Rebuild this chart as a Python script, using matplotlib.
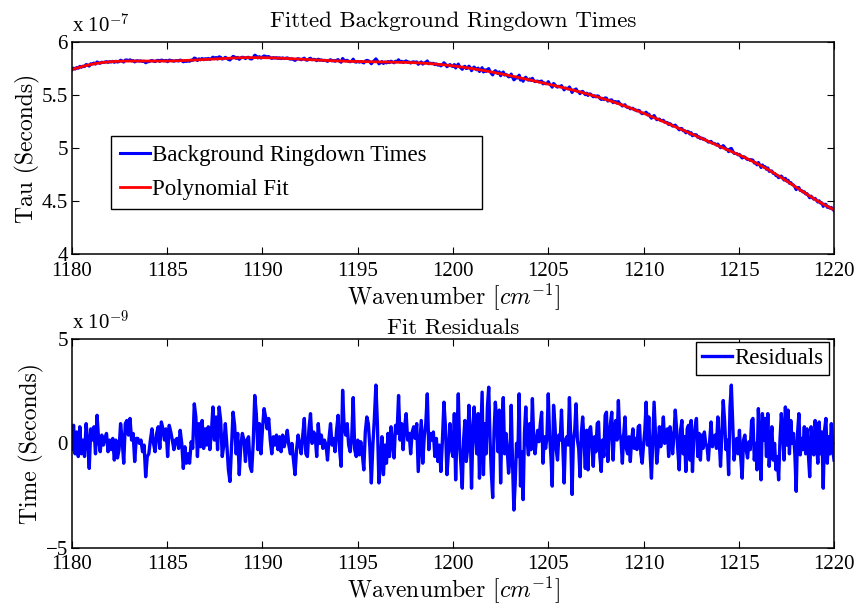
import numpy as np
import matplotlib
matplotlib.use("Agg")
import matplotlib.pyplot as plt
from matplotlib.ticker import FuncFormatter
from numpy.polynomial import Chebyshev

plt.rcParams['mathtext.fontset'] = 'cm'
plt.rcParams['font.family'] = ['Liberation Serif', 'DejaVu Serif']

# Polynomial fit anchors: wavenumber (cm^-1) and ringdown time (units of 1e-7 s)
fit_wn = [1180, 1181, 1182, 1183, 1185, 1187, 1189, 1190, 1191, 1193, 1195, 1197,
          1198, 1200, 1202, 1203, 1205, 1207, 1208, 1210, 1212, 1213, 1215, 1217,
          1218, 1219, 1220]
fit_tau = [5.74, 5.79, 5.81, 5.823, 5.82, 5.835, 5.85, 5.858, 5.845, 5.826, 5.816, 5.816,
           5.80, 5.772, 5.731, 5.668, 5.608, 5.513, 5.456, 5.33, 5.17, 5.10, 4.934, 4.75,
           4.63, 4.516, 4.418]

# Fit residuals (units of 1e-9 s), grouped by wavenumber band
band_edges = [1180.0, 1186.667, 1193.333, 1200.0, 1206.667, 1213.333, 1220.0]
res_band1 = [-0.3, 0.87, -0.5, 0.55, -0.63, 0.8, -0.5, 0.16, -0.63, 0.95, 0.16, -1.2, 0.7, 0.16,
             0.8, -0.5, 1.35, 0.16, -0.4, 0.4, -0.08, 0.24, 0.48, -0.4, 0.16, -0.3, 0.24, -0.8,
             0.16, -0.7, -0.3, 0.95, 0.16, -0.95, 0.95, 1.1, 0.4, 1.2, 0.16, 0.48, -0.87, 0.24,
             0.24, 0.0, 0.16, -0.4, -0.08, -1.6, -0.63, -0.5, 0.16, 0.7, 0.0, -0.4, 0.48, 0.8,
             -0.24, 1.03, 0.7, 0.16, 0.7, -0.63, 0.87, 0.55, 0.16, -0.3, 0.16, 0.24, -0.24, 0.63,
             0.0, -1.2, -0.16, -0.95, -0.5, -0.95, 0.08, -0.24, 1.9, 1.27, -0.63]
res_band2 = [0.95, -0.16, 1.1, -0.24, 0.7, -0.08, 0.8, -0.3, 0.55, 1.75, 0.16, 1.27, -0.3, 1.75,
             1.1, -0.63, -0.08, 0.95, -0.08, -1.27, -1.83, -0.16, 1.5, 0.87, -0.5, 0.48, -1.5,
             -0.08, 0.48, 0.16, -0.87, 0.16, 0.32, -1.1, -1.35, 0.0, 2.3, 1.43, -0.3, 0.95, -0.5,
             0.7, 1.67, 1.27, 0.7, 1.2, 0.16, -0.5, 0.32, -0.08, 0.4, -0.3, 0.32, -0.4, 0.4,
             -0.16, 0.16, 0.63, -0.08, -0.5, 0.0, -0.8, -1.5, -0.3, 0.4, -0.08, -0.5, 0.4, 1.2,
             -0.5, -0.63, 0.7, 1.43, 0.0, 0.55, 0.4, -0.63, 0.95, 0.0, 0.4, -0.24, 0.16]
res_band3 = [-0.08, -0.8, 0.24, 0.95, -0.08, 0.24, -0.4, 0.63, 1.35, -0.3, -1.1, 2.55, 0.8, 0.4,
             0.95, -0.08, -0.4, 0.24, 2.2, -0.3, -0.63, 0.16, -0.55, 0.08, -0.5, -1.27, 0.55,
             1.27, 0.95, -0.16, -1.9, -0.08, 1.2, 2.8, 0.95, -1.9, -0.95, 0.32, -1.5, -0.08,
             -0.95, 0.48, -0.63, 0.8, 0.0, -0.7, 0.87, 0.48, 2.3, 0.16, 0.95, -0.3, 0.8, 1.43,
             0.16, 0.48, -0.5, 0.55, 0.8, 0.24, 0.95, -1.35, -0.08, 1.1, -0.95, 0.32, 0.95, 2.38,
             -0.3, 0.48, 0.16, 0.55, -0.63, 0.24, -0.87, -0.08, -1.35, 0.16, 1.98, 0.8, -1.5,
             -0.4, 0.95, -0.3]
res_band4 = [-0.63, 1.43, -1.75, 0.48, 2.38, -0.08, -1.03, -2.15, 0.16, 1.1, -0.87, -0.3, 1.83,
             0.63, -2.15, 0.48, 1.75, 0.4, -0.5, 1.43, -1.67, 0.48, 2.46, -1.5, 0.95, -0.5, 1.75,
             2.7, 0.16, -1.43, -2.6, 0.55, 1.98, 1.1, -0.4, 1.6, -1.9, 0.95, 2.2, -0.5, 0.48,
             -0.3, -1.43, -0.8, 1.83, -0.95, -3.2, -1.9, 0.0, -0.63, 2.38, -2.05, -0.4, -2.7,
             0.48, 1.75, 0.16, -0.55, 0.95, -0.3, 2.15, 0.24, -0.5, 0.16, 0.63, 0.08, 0.95, 1.5,
             -0.95, 0.32, -0.24, 0.32, 2.38, 0.4, -0.63, -2.05, 1.83, 0.95, -0.3, -0.8, 0.4, 0.16,
             1.6, -0.16, -1.9, 0.16, 0.32, -0.08, 2.2, 0.16, -2.45, 0.16, 0.63, 1.9, 0.16, -0.24]
res_band5 = [-1.6, 0.48, 1.27, 0.16, -1.2, 0.63, -1.27, 0.63, 0.8, -0.08, -1.1, 0.32, -0.4, 0.95,
             1.03, -0.63, -1.35, 0.16, -0.63, 1.35, 1.5, -0.87, 0.16, 0.95, 1.5, -0.8, 0.63, 1.1,
             0.16, 2.06, 0.48, 0.16, -0.95, 0.4, 1.27, -0.24, -0.5, 0.32, -0.87, 0.16, 0.7,
             -0.24, 0.24, -0.3, 0.8, 0.87, -0.5, -0.95, -0.08, 0.63, 1.98, -0.08, 1.27, -0.5,
             -1.67, 0.16, 1.98, 0.48, -0.95, -0.24, 0.8, -0.16, 0.4, 1.27, 0.0, 0.32, 0.7, -0.63,
             0.8, 0.32, -0.5, 0.4, 1.6, 0.7, -0.4, -1.27, 0.63, 1.1, -0.5, 0.32, -1.35, 0.7, 0.87,
             -0.8, 1.1, -1.35, 0.24, 0.8, 1.2, -0.63, 0.48, -0.8, 0.4, -0.24, 0.55, 0.0]
res_band6 = [-0.16, -0.8, 0.16, 1.03, -0.16, 0.24, 0.4, -0.24, 1.27, 0.16, -1.1, 0.48, 2.06, 1.1,
             -0.3, 0.16, -1.5, 1.75, 2.8, 0.95, -0.8, -0.24, 0.24, -0.5, 0.63, -0.7, -1.67, 0.16,
             0.4, -0.3, -0.7, 0.08, -0.3, 1.1, 1.2, -0.8, 0.0, -1.27, 1.67, 0.16, -1.75, 1.43,
             0.16, 1.2, -0.63, 1.43, -1.1, -0.08, 0.8, -0.8, 0.0, -1.27, -0.63, -1.75, 0.16, 1.43,
             0.55, -0.8, 1.75, -0.08, 1.6, -0.5, 1.1, 0.0, 0.48, -0.5, -2.3, 0.48, 1.43, -0.55,
             0.24, -0.3, 0.8, -0.5, 0.7, -0.5, -1.6, 0.8, 0.16, -0.55, 1.1, 0.16, -0.95, 1.03,
             -0.5, 0.55, -2.15, 0.63, 1.2, -0.95, 0.32, -0.5, 0.95, -0.3, -0.8]

res_bands = [res_band1, res_band2, res_band3, res_band4, res_band5, res_band6]

# Assemble sampled wavenumber grid and residual series
wn_parts, res_parts = [], []
for i, band in enumerate(res_bands):
    lo, hi = band_edges[i], band_edges[i + 1]
    xs = np.linspace(lo, hi, len(band), endpoint=(i == len(res_bands) - 1))
    wn_parts.append(xs)
    res_parts.append(np.asarray(band))
wavenumber = np.concatenate(wn_parts)
residuals = np.concatenate(res_parts) * 1e-9

# Polynomial fit of the background ringdown curve (Chebyshev basis)
poly = Chebyshev.fit(fit_wn, fit_tau, 14, domain=[1180, 1220])
tau_fit = poly(wavenumber) * 1e-7
tau_meas = tau_fit + residuals

fig = plt.figure(figsize=(8.6, 6.07), dpi=100)
ax1 = fig.add_axes([0.0837, 0.5815, 0.8861, 0.3493])
ax2 = fig.add_axes([0.0837, 0.0980, 0.8861, 0.3430])

title_font = dict(family='cmr10', size=16.5)
label_font = dict(family='cmr10', size=17)
tick_size = 15
legend_size = 16.5
blue = '#0000ff'
red = '#ff0000'

ax1.plot(wavenumber, tau_meas, color=blue, lw=2.2, label='Background Ringdown Times')
ax1.plot(wavenumber, tau_fit, color=red, lw=2.0, label='Polynomial Fit')
ax1.set_xlim(1180, 1220)
ax1.set_ylim(4e-7, 6e-7)
ax1.set_yticks([4e-7, 4.5e-7, 5e-7, 5.5e-7, 6e-7])
ax1.yaxis.set_major_formatter(FuncFormatter(lambda v, p: f"{v / 1e-7:g}"))
ax1.set_title('Fitted Background Ringdown Times', fontdict=title_font, pad=11)
ax1.set_xlabel(r'Wavenumber $[cm^{-1}]$', fontdict=label_font, labelpad=0)
ax1.set_ylabel('Tau (Seconds)', fontdict=label_font, labelpad=1)
ax1.text(0.0, 1.02, r'x 10$^{-7}$', transform=ax1.transAxes, fontsize=tick_size,
         ha='left', va='bottom', family='Liberation Serif')
leg1 = ax1.legend(loc='upper left', bbox_to_anchor=(0.0512, 0.557, 0.487, 0.0),
                  mode='expand', fontsize=legend_size,
                  frameon=True, fancybox=False, edgecolor='black', framealpha=1,
                  handlelength=1.3, handletextpad=0.1, borderpad=0.4, labelspacing=0.55,
                  borderaxespad=0)
leg1.get_frame().set_linewidth(1.0)

ax2.plot(wavenumber, residuals, color=blue, lw=2.4, label='Residuals')
ax2.set_xlim(1180, 1220)
ax2.set_ylim(-5e-9, 5e-9)
ax2.set_yticks([-5e-9, 0, 5e-9])
ax2.yaxis.set_major_formatter(FuncFormatter(lambda v, p: f"{round(v / 1e-9):d}".replace('-', '\u2212')))
ax2.set_title('Fit Residuals', fontdict=title_font, pad=4)
ax2.set_xlabel(r'Wavenumber $[cm^{-1}]$', fontdict=label_font, labelpad=0)
ax2.set_ylabel('Time (Seconds)', fontdict=label_font, labelpad=1)
ax2.text(0.0, 1.02, r'x 10$^{-9}$', transform=ax2.transAxes, fontsize=tick_size,
         ha='left', va='bottom', family='Liberation Serif')
leg2 = ax2.legend(loc='upper right', bbox_to_anchor=(0.993, 0.985), fontsize=legend_size,
                  frameon=True, fancybox=False, edgecolor='black', framealpha=1,
                  handlelength=1.3, handletextpad=0.1, borderpad=0.25, borderaxespad=0)
leg2.get_frame().set_linewidth(1.0)

for ax in (ax1, ax2):
    ax.set_xticks(np.arange(1180, 1221, 5))
    ax.tick_params(direction='in', top=True, right=True, length=5, width=0.8,
                   labelsize=tick_size)
    ax.tick_params(axis='x', pad=5.5)
    ax.tick_params(axis='y', pad=3)
    for s in ax.spines.values():
        s.set_linewidth(1.1)

fig.savefig('out.png', dpi=100, facecolor='white')
